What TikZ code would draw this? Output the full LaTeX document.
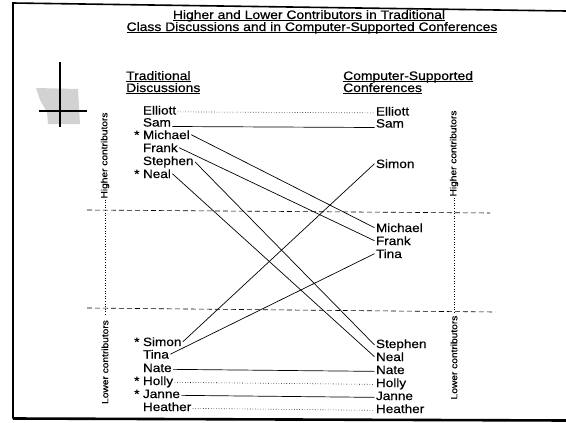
\documentclass[tikz,border=0pt]{standalone}
\usepackage{fontspec}
\setmainfont{Liberation Sans}[FakeStretch=1.13,FakeBold=0.6]
\newcommand{\hdr}[1]{\underline{\smash{#1}}}

\begin{document}
\begin{tikzpicture}[x=1pt,y=-1pt,
		who/.style={inner sep=1.5pt,outer sep=0pt,anchor=base west,font=\fontsize{12}{14}\selectfont},
		ttl/.style={inner sep=0pt,anchor=base,font=\fontsize{12.3}{14}\selectfont},
		side/.style={rotate=90,inner sep=1pt,font=\fontsize{9}{10}\selectfont},
		link/.style={line width=0.7pt},
		dotlink/.style={line width=0.6pt,dotted},
		split/.style={line width=0.6pt,dash pattern=on 5pt off 3pt}]
			\useasboundingbox (0,0) rectangle (566,423);
			\def\xl{141.5}
			\def\xr{374.5}
			\draw[line width=1.6pt] (566,11) -- (13,3) -- (13,418.5);
			\draw[line width=2.6pt] (13,418.5) -- (566,420.5);
			\fill[gray!35] (36,88) -- (78,89) -- (80,124) -- (48,124) -- (47,112) -- (40,100) -- cycle;
			\draw[line width=1.4pt] (60,62) -- (60,127);
			\draw[line width=1.4pt] (39,111) -- (87,111);
			\node[ttl] (title1) at (309,19) {\hdr{Higher and Lower Contributors in Traditional}};
			\node[ttl] (title2) at (312,31) {\hdr{Class Discussions and in Computer-Supported Conferences}};
			\node[ttl,anchor=base west] (trad1) at (126,80) {\hdr{Traditional}};
			\node[ttl,anchor=base west] (trad2) at (126,92) {\hdr{Discussions}};
			\node[ttl,anchor=base west] (comp1) at (343,80) {\hdr{Computer-Supported}};
			\node[ttl,anchor=base west] (comp2) at (343,92) {\hdr{Conferences}};
			\foreach \n/\y in {Elliott/114.5, Sam/126.5, Michael/139, Frank/152, Stephen/165, Neal/178,
					Simon/346, Tina/358.5, Nate/372, Holly/385, Janne/398, Heather/411} {
				\node[who] (l\n) at (\xl,\y) {\n};
			}
			\foreach \n/\y in {Elliott/115.5, Sam/127.5, Simon/168, Michael/232, Frank/245, Tina/258,
					Stephen/348, Neal/361, Nate/374, Holly/387, Janne/400, Heather/413} {
				\node[who] (r\n) at (\xr,\y) {\n};
			}
			\foreach \n in {Michael, Neal, Simon, Holly, Janne} {
				\node[who,anchor=base east,inner sep=0pt] (s\n) at ([xshift=-2pt]l\n.base west) {*};
			}
			\foreach \n in {Michael, Frank, Stephen, Neal, Simon, Tina} {
				\draw[link] (l\n.east) -- (r\n.west);
			}
			\foreach \n in {Elliott, Holly, Heather} {
				\draw[dotlink] (l\n.mid east) -- (r\n.mid west);
			}
			\foreach \n in {Nate, Janne} {
				\draw[link] (l\n.mid east) -- (r\n.mid west);
			}
			\draw[link] (lSam.base east) -- (rSam.base west);
			\node[side] (hiL) at (105,155.5) {Higher contributors};
			\node[side] (loL) at (105,362) {Lower contributors};
			\node[side] (hiR) at (454,153.5) {Higher contributors};
			\node[side] (loR) at (454,357.5) {Lower contributors};
			\draw[dotlink,line width=0.5pt,shorten >=4pt] (hiL.west) -- (loL.east);
			\draw[dotlink,line width=0.5pt,shorten >=2pt] (hiR.west) -- (loR.east);
			\draw[split] (87,210) -- (490,213);
			\draw[split] (87,308) -- (495,312);
		\end{tikzpicture}
\end{document}
